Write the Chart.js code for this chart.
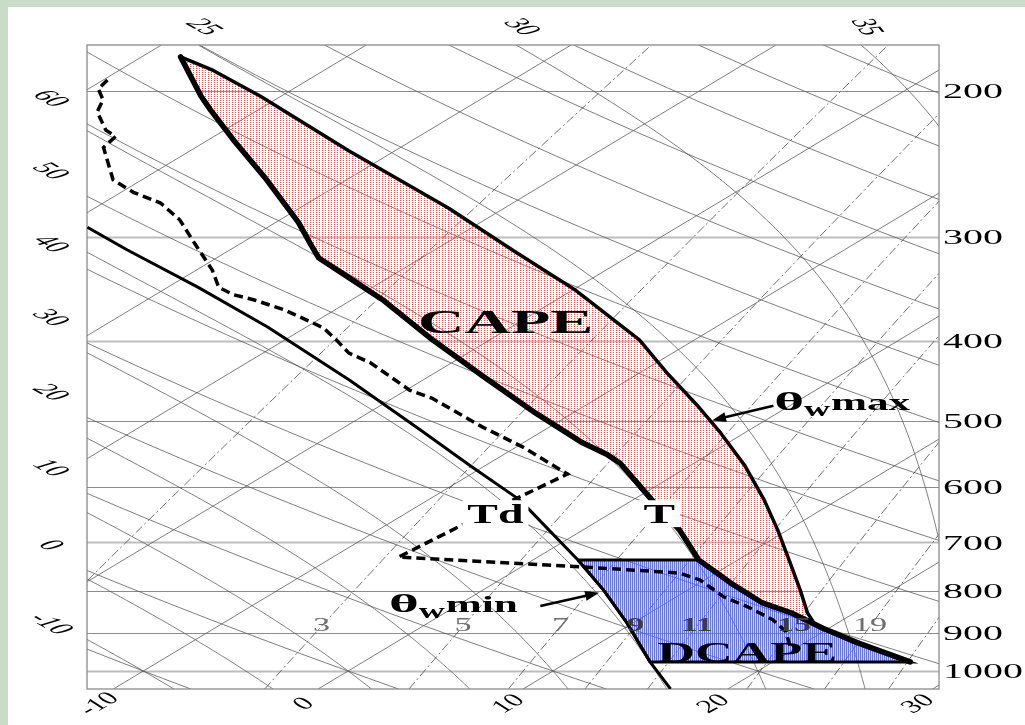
<!DOCTYPE html>
<html>
<head>
<meta charset="utf-8">
<script src="https://cdn.jsdelivr.net/npm/chart.js@4.4.1/dist/chart.umd.min.js"></script>
<style>
  html, body { margin: 0; padding: 0; background: #c8dcc8; }
  canvas { display: block; }
</style>
</head>
<body>
<canvas id="skewt" width="1025" height="725"></canvas>
<script>
// ---- Sounding: environmental temperature (hPa, °C) ----
const tempP = [182, 203, 211, 229, 256, 288, 307, 318, 336, 357, 399, 442, 489, 531, 549, 562, 619, 676, 735, 783, 828, 851, 888, 925, 975];
const tempT = [-58.1, -53.9, -52.3, -48.8, -43.9, -38.9, -36.4, -35.0, -31.9, -28.5, -22.8, -17.3, -11.8, -7.1, -4.9, -3.6, 0.7, 4.7, 8.1, 11.5, 14.7, 16.9, 19.7, 22.6, 26.7];

// ---- Sounding: dew point (hPa, °C) ----
const dewP = [194, 199, 205, 212, 223, 227, 234, 256, 265, 273, 286, 308, 329, 345, 352, 357, 367, 378, 386, 399, 414, 425, 459, 469, 508, 537, 579, 619, 667, 729, 749, 762, 777, 814, 837, 868, 897, 943];
const dewT = [-59.8, -59.5, -58.4, -57.7, -55.8, -54.8, -54.5, -51.4, -49.4, -47.2, -44.9, -41.9, -39.2, -37.5, -36.2, -34.8, -32.5, -30.5, -29.1, -27.5, -25.8, -24.0, -19.8, -18.1, -13.3, -9.7, -5.3, -5.8, -6.3, -6.8, 2.9, 8.2, 9.8, 12.3, 14.3, 16.6, 18.2, 19.9];

// ---- Warmest parcel path (theta-w max) ----
const wMaxP = [182, 189, 203, 236, 277, 311, 348, 399, 437, 478, 515, 566, 622, 676, 741, 799, 851, 883];
const wMaxT = [-58.1, -55.4, -51.0, -42.3, -32.7, -26.2, -19.8, -12.7, -8.7, -4.6, -1.3, 2.7, 6.4, 9.5, 12.8, 15.5, 17.7, 19.2];

// ---- Coolest downdraft path (theta-w min) ----
const wMinP = [292, 311, 345, 385, 446, 512, 565, 619, 636, 735, 762, 799, 875, 975, 1051];
const wMinT = [-48.8, -45.0, -38.5, -31.9, -23.6, -16.1, -10.8, -5.8, -4.5, 2.2, 3.8, 5.9, 9.7, 14.0, 17.2];

// Layer limits for the shaded areas (hPa)
const capeBaseP = 888;
const dcapeTopP = 735;
const dcapeBaseP = 975;

// ---- Diagram background families and their labels ----
const isobars = [200, 300, 400, 500, 600, 700, 800, 900, 1000];
const lightIsobars = [300, 400, 700, 1000];
const isotherms = [-110, -100, -90, -80, -70, -60, -50, -40, -30, -20, -10, 0, 10, 20, 30, 40];
const isothermLabels = [-10, 0, 10, 20, 30];
const dryAdiabats = [-30, -20, -10, 0, 10, 20, 30, 40, 50, 60, 70, 80, 90, 100, 110, 120, 130, 140, 150, 160, 170, 180];
const dryAdiabatLabels = [60, 50, 40, 30, 20, 10, 0, -10];
const moistAdiabats = [-10, -5, 0, 5, 10, 15, 20, 25, 30, 35, 40];
const moistAdiabatLabels = [25, 30, 35];
const mixingRatios = [1, 3, 5, 7, 9, 11, 15, 19, 23];
const mixingRatioLabels = [3, 5, 7, 9, 11, 15, 19];
const mixingLabelP = 883;

// ---- Skew-T projection ----
const SKEW = 29.3;          // °C of skew per unit ln(p)
const P_BOTTOM = 1051.2, P_TOP = 176.1;
const X_MIN = -12.75, X_MAX = 28.85;
const skewX = (t, p) => t + SKEW * Math.log(1000 / p);
const toPts = (P, T) => P.map((p, i) => ({ x: skewX(T[i], p), y: p }));

// CAPE: environment down to the parcel base, then back up the parcel curve
function capePolygon() {
  const env = [];
  tempP.forEach((p, i) => { if (p <= capeBaseP) env.push({ x: skewX(tempT[i], p), y: p }); });
  const parcel = toPts(wMaxP, wMaxT).reverse();
  return env.concat(parcel);
}
// DCAPE: theta-w min side down to the base, then the environment back up
function dcapePolygon() {
  const left = wMinP.map((p, i) => [p, wMinT[i]]).filter(([p]) => p >= dcapeTopP && p <= dcapeBaseP);
  const right = tempP.map((p, i) => [p, tempT[i]]).filter(([p]) => p >= dcapeTopP && p <= dcapeBaseP).reverse();
  return left.concat(right, [left[0]]).map(([p, t]) => ({ x: skewX(t, p), y: p }));
}

// ---- Fill patterns ----
function makePattern(w, h, paint) {
  const c = document.createElement('canvas');
  c.width = w; c.height = h;
  paint(c.getContext('2d'));
  return document.getElementById('skewt').getContext('2d').createPattern(c, 'repeat');
}
const capePattern = makePattern(3, 2, g => { g.fillStyle = '#ff4848'; g.fillRect(1, 0, 1, 1); });
const dcapePattern = makePattern(2, 1, g => {
  g.fillStyle = 'rgba(60,78,236,0.78)'; g.fillRect(0, 0, 1, 1);
  g.fillStyle = 'rgba(150,162,248,0.32)'; g.fillRect(1, 0, 1, 1);
});

// ---- Thermodynamics for the background lines ----
// latent heat used for the saturated adiabats of this diagram
const LV = 2.43e6;
function dryCurve(thetaC) {
  const out = [];
  for (let i = 0; i <= 60; i++) {
    const p = P_BOTTOM * Math.pow(P_TOP / P_BOTTOM, i / 60);
    out.push([p, (thetaC + 273.15) * Math.pow(p / 1000, 0.2857) - 273.15]);
  }
  return out;
}
function moistRate(T, p) {
  const es = 6.112 * Math.exp(17.67 * (T - 273.15) / (T - 29.65));
  const rs = 0.622 * es / (p - es);
  const Rd = 287.04, Cp = 1005.7;
  return ((Rd * T + LV * rs) / p) / (Cp + (LV * LV * rs * 0.622) / (Rd * T * T));
}
function integrate(T, p, pEnd, n, out) {
  const h = (pEnd - p) / n;
  for (let i = 0; i < n; i++) {
    const k1 = moistRate(T, p);
    const k2 = moistRate(T + h * k1 / 2, p + h / 2);
    const k3 = moistRate(T + h * k2 / 2, p + h / 2);
    const k4 = moistRate(T + h * k3, p + h);
    T += h * (k1 + 2 * k2 + 2 * k3 + k4) / 6;
    p += h;
    out.push([p, T - 273.15]);
  }
}
function moistCurve(thetaW) {
  const up = [[1000, thetaW]], down = [];
  integrate(thetaW + 273.15, 1000, P_TOP, 240, up);
  integrate(thetaW + 273.15, 1000, P_BOTTOM, 15, down);
  return down.reverse().concat(up);
}
function mixingCurve(w) {
  const out = [];
  for (let i = 0; i <= 40; i++) {
    const p = P_BOTTOM * Math.pow(P_TOP / P_BOTTOM, i / 40);
    const e = p * w / (622 + w);
    const a = Math.log(e / 6.112);
    out.push([p, 243.5 * a / (17.67 - a)]);
  }
  return out;
}

// ---- Text helpers ----
const SERIF = '"Liberation Serif", "DejaVu Serif", serif';
function drawText(ctx, text, x, y, o) {
  const sx = o.sx || 1;
  ctx.save();
  ctx.translate(x, y);
  ctx.scale(sx, 1);
  if (o.angle) ctx.rotate(o.angle);
  ctx.font = o.font;
  ctx.fillStyle = o.color || '#000';
  ctx.textAlign = o.align || 'left';
  ctx.textBaseline = o.baseline || 'alphabetic';
  ctx.fillText(text, 0, 0);
  const w = ctx.measureText(text).width * sx;
  ctx.restore();
  return w;
}
function thetaLabel(ctx, x, y, suffix) {
  let cx = x;
  cx += drawText(ctx, 'θ', cx, y, { font: 'bold 26px ' + SERIF, sx: 2.2 });
  cx += drawText(ctx, 'w', cx, y + 6, { font: 'bold 20px ' + SERIF, sx: 1.8 });
  drawText(ctx, suffix, cx + 1, y, { font: 'bold 24px ' + SERIF, sx: 1.8 });
}
function arrow(ctx, x1, y1, x2, y2) {
  const ang = Math.atan2(y2 - y1, x2 - x1), L = 14, W = 5;
  const c = Math.cos(ang), s = Math.sin(ang);
  ctx.save();
  ctx.strokeStyle = '#000'; ctx.fillStyle = '#000'; ctx.lineWidth = 2.5;
  ctx.beginPath(); ctx.moveTo(x1, y1); ctx.lineTo(x2 - L * 0.8 * c, y2 - L * 0.8 * s); ctx.stroke();
  ctx.beginPath();
  ctx.moveTo(x2, y2);
  ctx.lineTo(x2 - L * c + W * s, y2 - L * s - W * c);
  ctx.lineTo(x2 - L * c - W * s, y2 - L * s + W * c);
  ctx.closePath(); ctx.fill();
  ctx.restore();
}
function boxedLabel(ctx, text, x, y, size, sx) {
  ctx.save();
  ctx.font = 'bold ' + size + 'px ' + SERIF;
  const w = ctx.measureText(text).width * sx;
  ctx.fillStyle = '#fff';
  ctx.fillRect(x - 5, y - size * 0.7 - 4, w + 10, size * 0.7 + 8);
  ctx.restore();
  drawText(ctx, text, x, y, { font: 'bold ' + size + 'px ' + SERIF, sx });
}

// ---- Plugin: page background, thermodynamic grid, axis labels and annotations ----
const skewTPlugin = {
  id: 'skewT',
  beforeDraw(chart) {
    const { ctx, width, height } = chart;
    ctx.save();
    ctx.fillStyle = '#c8dcc8'; ctx.fillRect(0, 0, width, height);
    ctx.fillStyle = '#ffffff'; ctx.fillRect(8, 7, width - 8, height - 7);
    ctx.restore();
  },
  beforeDatasetsDraw(chart) {
    const { ctx, chartArea: a, scales: { x: xs, y: ys } } = chart;
    const px = (p, t) => [xs.getPixelForValue(skewX(t, p)), ys.getPixelForValue(p)];
    const poly = pts => {
      ctx.beginPath();
      pts.forEach(([p, t], i) => { const [X, Y] = px(p, t); i ? ctx.lineTo(X, Y) : ctx.moveTo(X, Y); });
      ctx.stroke();
    };
    ctx.save();
    ctx.beginPath(); ctx.rect(a.left, a.top, a.right - a.left, a.bottom - a.top); ctx.clip();

    // isobars
    isobars.forEach(p => {
      const y = Math.round(ys.getPixelForValue(p)) + 0.5;
      const light = lightIsobars.includes(p);
      ctx.strokeStyle = light ? '#bdbdbd' : '#8c8c8c';
      ctx.lineWidth = light ? 2 : 1;
      ctx.beginPath(); ctx.moveTo(a.left, y); ctx.lineTo(a.right, y); ctx.stroke();
    });

    ctx.strokeStyle = 'rgba(85,85,85,0.85)';
    ctx.lineWidth = 0.9;
    // isotherms
    isotherms.forEach(t => poly([[P_BOTTOM, t], [P_TOP, t]]));
    // dry adiabats
    dryAdiabats.forEach(th => poly(dryCurve(th)));
    // saturated adiabats
    moistAdiabats.forEach(tw => poly(moistCurve(tw)));
    // mixing-ratio lines
    ctx.setLineDash([9, 3, 2, 3]);
    ctx.strokeStyle = 'rgba(70,70,70,0.85)';
    mixingRatios.forEach(w => poly(mixingCurve(w)));
    ctx.setLineDash([]);
    ctx.restore();

    // frame
    ctx.save();
    ctx.strokeStyle = '#8a8a8a'; ctx.lineWidth = 1.3;
    ctx.strokeRect(a.left, a.top, a.right - a.left, a.bottom - a.top);
    ctx.restore();
  },
  afterDatasetsDraw(chart) {
    const { ctx, chartArea: a, scales: { x: xs, y: ys } } = chart;
    const px = (t, p) => [xs.getPixelForValue(skewX(t, p)), ys.getPixelForValue(p)];
    const italic = 'italic 17px ' + SERIF;

    // pressure labels on the right
    isobars.forEach(p => {
      drawText(ctx, String(p), a.right + 4, ys.getPixelForValue(p) + 2,
        { font: '20px ' + SERIF, sx: 2, baseline: 'middle' });
    });

    // isotherm labels along the bottom
    isothermLabels.forEach(t => {
      const [x] = px(t, P_BOTTOM);
      drawText(ctx, String(t), x - 14, a.bottom + 15,
        { font: italic, sx: 2, angle: -48 * Math.PI / 180, align: 'center', baseline: 'middle' });
    });

    // dry adiabat labels down the left side (where each line meets the left edge)
    dryAdiabatLabels.forEach(th => {
      const f = p => skewX((th + 273.15) * Math.pow(p / 1000, 0.2857) - 273.15, p) - X_MIN;
      let lo = P_TOP, hi = P_BOTTOM;
      if (f(lo) * f(hi) > 0) return;
      for (let k = 0; k < 40; k++) { const m = (lo + hi) / 2; (f(m) * f(lo) > 0) ? lo = m : hi = m; }
      const y = ys.getPixelForValue((lo + hi) / 2);
      drawText(ctx, String(th), 50, y - 25,
        { font: italic, sx: 2, angle: 48 * Math.PI / 180, align: 'center', baseline: 'middle' });
    });

    // saturated adiabat labels along the top, turned with their lines
    moistAdiabatLabels.forEach(tw => {
      const c = moistCurve(tw);
      const [p1, t1] = c[c.length - 1];
      const [p0, t0] = c[c.length - 25];
      const [x1, y1] = px(t1, p1), [x0, y0] = px(t0, p0);
      const ang = Math.atan2(y0 - y1, (x0 - x1) / 2);
      drawText(ctx, String(tw), x1 + 5, a.top - 18,
        { font: italic, sx: 2, angle: ang, align: 'center', baseline: 'middle' });
    });

    // mixing-ratio labels; darker where they sit inside the DCAPE area
    const dpath = new Path2D();
    dcapePolygon().forEach((pt, i) => {
      const X = xs.getPixelForValue(pt.x), Y = ys.getPixelForValue(pt.y);
      i ? dpath.lineTo(X, Y) : dpath.moveTo(X, Y);
    });
    dpath.closePath();
    mixingRatioLabels.forEach(w => {
      const e = mixingLabelP * w / (622 + w);
      const al = Math.log(e / 6.112);
      const t = 243.5 * al / (17.67 - al);
      const [x, y] = px(t, mixingLabelP);
      const inside = ctx.isPointInPath(dpath, x, y);
      drawText(ctx, String(w), x, y,
        { font: (inside ? 'bold ' : '') + '19px ' + SERIF, sx: 1.8, align: 'center', baseline: 'middle',
          color: inside ? '#3c3c3c' : '#6e6e6e' });
    });

    // annotations
    let [x, y] = px(-24.1, 391);
    drawText(ctx, 'CAPE', x, y, { font: 'bold 33px ' + SERIF, sx: 1.95 });
    [x, y] = px(14.35, 975);
    drawText(ctx, 'DCAPE', x, y, { font: 'bold 29px ' + SERIF, sx: 1.8 });
    [x, y] = px(2.4, 663.5);
    boxedLabel(ctx, 'T', x, y, 27, 1.75);
    [x, y] = px(-6.2, 663.5);
    boxedLabel(ctx, 'Td', x, y, 27, 1.7);

    [x, y] = px(-0.4, 485);
    thetaLabel(ctx, x, y, 'max');
    let [ax, ay] = px(-0.8, 479), [hx, hy] = px(-2.6, 499);
    arrow(ctx, ax, ay, hx, hy);

    [x, y] = px(-2.8, 849);
    thetaLabel(ctx, x, y, 'min');
    [ax, ay] = px(4.1, 835); [hx, hy] = px(5.9, 805);
    arrow(ctx, ax, ay, hx, hy);
  }
};

new Chart(document.getElementById('skewt'), {
  type: 'line',
  data: {
    datasets: [
      { label: 'CAPE', data: capePolygon(), fill: 'shape', backgroundColor: capePattern,
        borderColor: '#ff2020', borderWidth: 1.5, pointRadius: 0, order: 10 },
      { label: 'DCAPE', data: dcapePolygon(), fill: 'shape', backgroundColor: dcapePattern,
        borderColor: '#000000', borderWidth: 3, pointRadius: 0, order: 9 },
      { label: 'θw min', data: toPts(wMinP, wMinT), fill: false, borderColor: '#000',
        borderWidth: 3, pointRadius: 0, order: 4, borderJoinStyle: 'round' },
      { label: 'θw max', data: toPts(wMaxP, wMaxT), fill: false, borderColor: '#000',
        borderWidth: 3.5, pointRadius: 0, order: 3, borderJoinStyle: 'round' },
      { label: 'Td', data: toPts(dewP, dewT), fill: false, borderColor: '#000',
        borderWidth: 3.5, borderDash: [9, 5], pointRadius: 0, order: 2 },
      { label: 'T', data: toPts(tempP, tempT), fill: false, borderColor: '#000',
        borderWidth: 5.5, pointRadius: 0, order: 1, borderJoinStyle: 'round', borderCapStyle: 'round' }
    ]
  },
  options: {
    responsive: false,
    animation: false,
    devicePixelRatio: 1,
    layout: { padding: { left: 87, top: 45, right: 86, bottom: 36 } },
    plugins: { legend: { display: false }, tooltip: { enabled: false } },
    elements: { line: { tension: 0 }, point: { radius: 0, hitRadius: 0 } },
    scales: {
      x: { type: 'linear', min: X_MIN, max: X_MAX, display: false },
      y: { type: 'logarithmic', min: P_TOP, max: P_BOTTOM, reverse: true, display: false }
    }
  },
  plugins: [skewTPlugin]
});
</script>
</body>
</html>
